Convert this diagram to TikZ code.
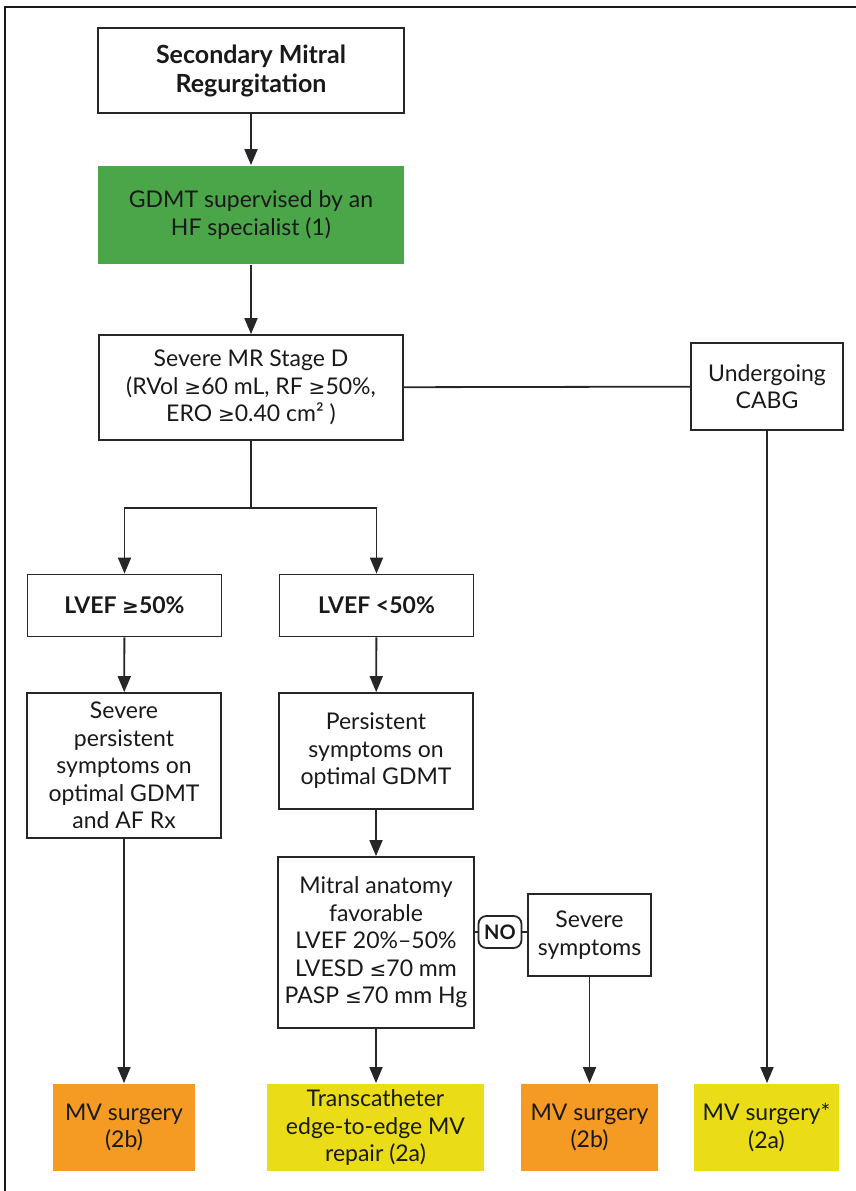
\documentclass[tikz,border=0pt]{standalone}
\usepackage{fontspec}
\setmainfont{Lato}
\newfontfamily\symfont{DejaVu Sans}
\usetikzlibrary{arrows.meta,positioning}
\definecolor{gdmtgreen}{RGB}{74,166,72}
\definecolor{surgorange}{RGB}{245,155,35}
\definecolor{tyellow}{RGB}{234,220,22}
\newcommand{\gesign}{{\symfont\fontsize{20}{20}\selectfont ≥}}
\newcommand{\lesign}{{\symfont\fontsize{20}{20}\selectfont ≤}}

\begin{document}
\begin{tikzpicture}[x=1pt,y=-1pt,
  box/.style={draw=black!85,line width=1.8pt,align=center,inner sep=0pt,text=black!90,
    font=\fontsize{23}{27.5}\selectfont},
  fillbox/.style={box,draw=none},
  arr/.style={-{Triangle[length=16pt,width=13pt]},line width=1.8pt,draw=black!85},
  link/.style={line width=1.8pt,draw=black!85}]
  \useasboundingbox (0,0) rectangle (856,1191);
  \draw[line width=2.2pt,black!90] (5,1191) -- (5,7) -- (856,7);

  % top of the chart
  \node[box,minimum width=306,minimum height=85,font=\fontsize{25}{29}\selectfont\bfseries] (smr) at (251,70.5) {Secondary Mitral\\Regurgitation};
  \node[fillbox,fill=gdmtgreen,minimum width=306,minimum height=98] (gdmt) at (251,215) {GDMT supervised by an\\HF specialist (1)};
  \node[box,minimum width=304,minimum height=105] (smrd) at (251,387.5) {Severe MR Stage D\\(RVol \gesign60 mL, RF \gesign50\%,\\ERO \gesign0.40 cm² )};
  \node[box,minimum width=152,minimum height=87] (cabg) at (767,386.5) {Undergoing\\CABG};

  % two LVEF branches
  \node[box,minimum width=194,minimum height=62] (lvhi) at (124.5,605.5) {\bfseries LVEF \gesign50\%};
  \node[box,minimum width=194,minimum height=62] (lvlo) at (376.5,605.5) {\bfseries LVEF <50\%};
  \node[box,minimum width=194,minimum height=145] (sev) at (124,765.5) {Severe\\persistent\\symptoms on\\optimal GDMT\\and AF Rx};
  \node[box,minimum width=194,minimum height=116] (pers) at (376,751) {Persistent\\symptoms on\\optimal GDMT};
  \node[box,minimum width=196,minimum height=171] (mitral) at (376,942.5) {Mitral anatomy\\favorable\\LVEF 20\%–50\%\\LVESD \lesign70 mm\\PASP \lesign70 mm Hg};
  \node[box,rounded corners=8pt,minimum width=43,minimum height=32,font=\fontsize{20}{22}\selectfont\bfseries] (no) at (500,932) {NO};
  \node[box,minimum width=123,minimum height=82] (sevsym) at (589.5,935) {Severe\\symptoms};

  % outcomes
  \node[fillbox,fill=surgorange,minimum width=142,minimum height=87] (mv1) at (124,1127.5) {MV surgery\\(2b)};
  \node[fillbox,fill=tyellow,minimum width=217,minimum height=87] (tmv) at (375.5,1127.5) {Transcatheter\\edge-to-edge MV\\repair (2a)};
  \node[fillbox,fill=surgorange,minimum width=137,minimum height=87] (mv2) at (589.5,1127.5) {MV surgery\\(2b)};
  \node[fillbox,fill=tyellow,minimum width=145,minimum height=87] (mv3) at (766.5,1127.5) {MV surgery*\\(2a)};

  \coordinate (split) at (251,508);
  \draw[arr] (smr) -- (gdmt);
  \draw[arr] (gdmt) -- (smrd);
  \draw[link] (smrd) -- (cabg);
  \draw[link] (smrd.south) -- (split);
  \draw[arr] (split) -| (lvhi.north);
  \draw[arr] (split) -| (lvlo.north);
  \draw[arr] (lvhi) -- (sev);
  \draw[arr] (lvlo) -- (pers);
  \draw[arr] (pers) -- (mitral);
  \draw[link] (mitral.east |- no.west) -- (no.west) (no.east) -- (sevsym.west |- no.east);
  \draw[arr] (sev) -- (mv1);
  \draw[arr] (mitral.south) -- (mitral.south |- tmv.north);
  \draw[arr] (sevsym) -- (mv2);
  \draw[arr] (cabg.south) -- (cabg.south |- mv3.north);
\end{tikzpicture}
\end{document}
